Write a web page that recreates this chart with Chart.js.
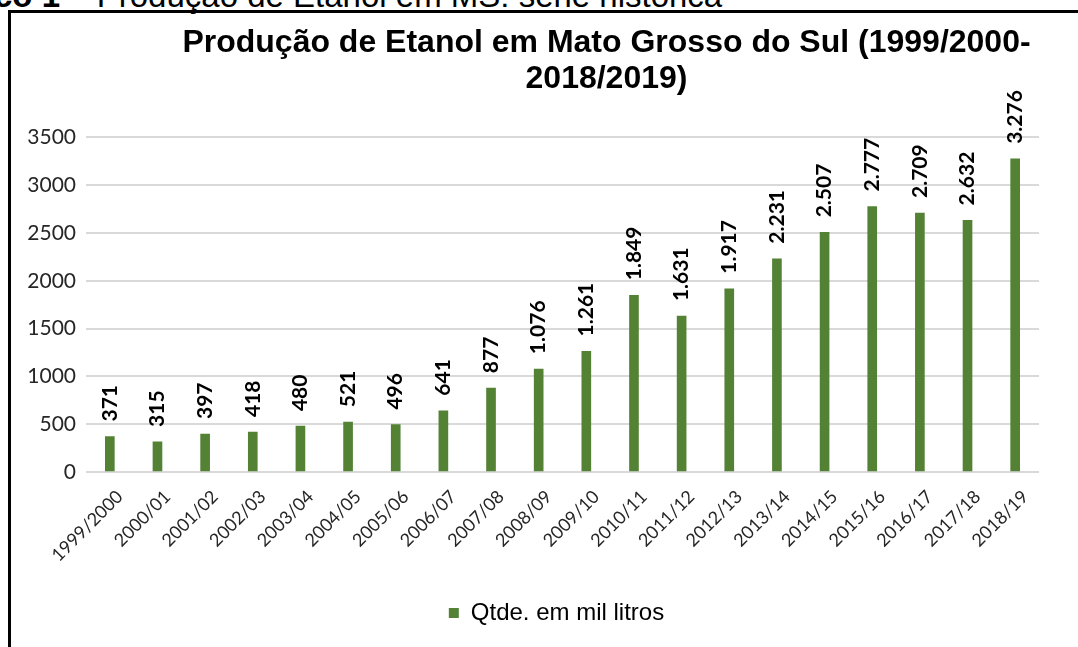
<!DOCTYPE html>
<html>
<head>
<meta charset="utf-8">
<script src="https://cdn.jsdelivr.net/npm/chart.js@4.4.1/dist/chart.umd.min.js"></script>
<style>
  html, body { margin: 0; padding: 0; width: 1078px; height: 647px; overflow: hidden; background: #fff; }
  #caption { position: absolute; left: -83px; top: -21px; font: 33px/33px "Liberation Sans", Arial, sans-serif; white-space: nowrap; color: #000; }
  #frame { position: absolute; left: 8px; top: 10px; width: 1200px; height: 800px; border: 3px solid #000; }
  #wrap { position: absolute; left: 0; top: 0; width: 1078px; height: 647px; }
</style>
</head>
<body>
<div id="caption"><b>Gráfico 1</b> – Produção de Etanol em MS: série histórica</div>
<div id="frame"></div>
<div id="wrap"><canvas id="chartjs"></canvas></div>
<script>
// safras (eixo x)
const safras = ['1999/2000', '2000/01', '2001/02', '2002/03', '2003/04', '2004/05', '2005/06',
  '2006/07', '2007/08', '2008/09', '2009/10', '2010/11', '2011/12', '2012/13', '2013/14',
  '2014/15', '2015/16', '2016/17', '2017/18', '2018/19']

// produção em mil litros
const producao = [371, 315, 397, 418, 480, 521, 496, 641, 877, 1076, 1261, 1849, 1631, 1917,
  2231, 2507, 2777, 2709, 2632, 3276]

const serieNome = 'Qtde. em mil litros'
const tituloLinhas = ['Produção de Etanol em Mato Grosso do Sul (1999/2000-', '2018/2019)']
const yMin = 0
const yMax = 3500
const yPasso = 500

function formatBR(v) {
  return String(v).replace(/\B(?=(\d{3})+(?!\d))/g, '.')
}

// rótulos verticais acima das barras
const rotulosBarras = {
  id: 'rotulosBarras',
  afterDatasetsDraw(chart) {
    const ctx = chart.ctx
    const meta = chart.getDatasetMeta(0)
    ctx.save()
    ctx.font = 'bold 21px Lato'
    ctx.fillStyle = '#000'
    ctx.textAlign = 'left'
    ctx.textBaseline = 'middle'
    meta.data.forEach((bar, i) => {
      ctx.save()
      ctx.translate(bar.x, bar.y - 15)
      ctx.rotate(-Math.PI / 2)
      ctx.fillText(formatBR(producao[i]), 0, 0)
      ctx.restore()
    })
    ctx.restore()
  }
}

// título e legenda deslocados para a direita, como no original
const deslocarBlocos = {
  id: 'deslocarBlocos',
  afterLayout(chart) {
    chart.titleBlock.left += 87
    chart.titleBlock.right += 87
    chart.legend.left += 37
    chart.legend.right += 37
  }
}

const ctx = document.getElementById('chartjs').getContext('2d')

const myChart = new Chart(ctx, {
  type: 'bar',
  data: {
    labels: safras,
    datasets: [{
      label: serieNome,
      data: producao,
      backgroundColor: '#548235',
      borderWidth: 0,
      barThickness: 9
    }]
  },
  options: {
    responsive: true,
    maintainAspectRatio: false,
    animation: false,
    layout: {
      padding: { left: 0, right: 39, top: 0, bottom: 12 }
    },
    plugins: {
      title: {
        display: true,
        text: tituloLinhas,
        color: '#000',
        font: { family: 'Liberation Sans', size: 32, weight: 'bold', lineHeight: 1.1 },
        padding: { top: 26, bottom: 41 }
      },
      legend: {
        position: 'bottom',
        labels: {
          boxWidth: 10,
          boxHeight: 10,
          padding: 10,
          color: '#000',
          font: { family: 'Liberation Sans', size: 24 }
        }
      },
      tooltip: { enabled: false }
    },
    scales: {
      x: {
        grid: { display: false },
        border: { display: false },
        ticks: {
          autoSkip: false,
          maxRotation: 45,
          minRotation: 45,
          padding: 6,
          labelOffset: 10,
          color: '#262626',
          font: { family: 'Lato', size: 18 }
        },
        afterFit(scale) { scale.height = 119 }
      },
      y: {
        min: yMin,
        max: yMax,
        grid: { color: '#d9d9d9', lineWidth: 2, drawTicks: false },
        border: { display: false },
        ticks: {
          stepSize: yPasso,
          padding: 10,
          color: '#262626',
          font: { family: 'Lato', size: 21 },
          callback: (v) => String(v)
        },
        afterFit(scale) { scale.width = 86 }
      }
    }
  },
  plugins: [rotulosBarras, deslocarBlocos]
})
</script>
</body>
</html>
